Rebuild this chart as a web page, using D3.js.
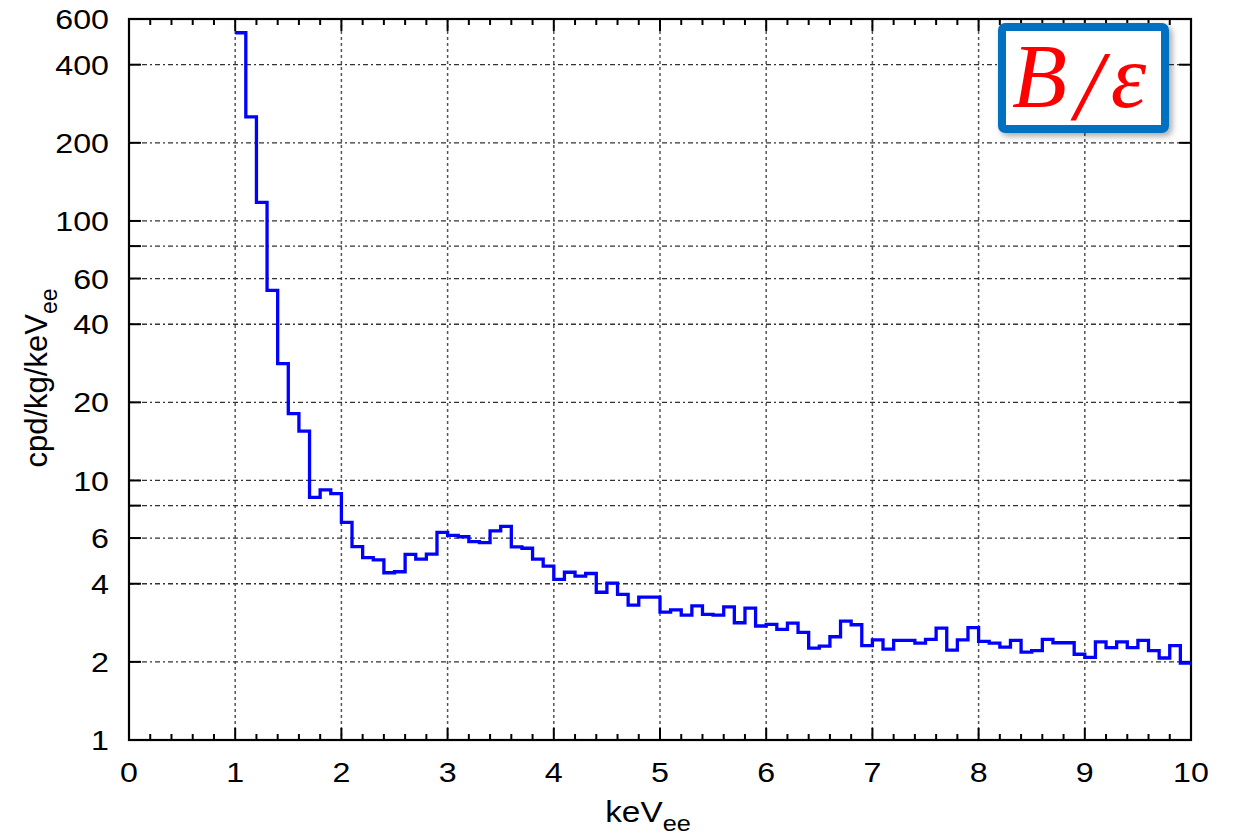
<!DOCTYPE html>
<html>
<head>
<meta charset="utf-8">
<script src="https://cdn.jsdelivr.net/npm/d3@7"></script>
<style>
  body { margin: 0; background: #fff; }
  .sans { font-family: "Liberation Sans", Arial, sans-serif; }
  .serif { font-family: "Liberation Serif", "DejaVu Serif", serif; font-style: italic; }
</style>
</head>
<body>
<div id="chart"></div>
<script>
// histogram, 0.1 keV bins from 1 to 10 keVee
var binStart = 1.0;
var binWidth = 0.1;
var counts = [
  531, 252, 118, 54, 28.2, 18.1, 15.5, 8.6, 9.2, 8.9,
  6.9, 5.56, 5.04, 4.94, 4.41, 4.45, 5.19, 4.98, 5.2, 6.31,
  6.14, 6.07, 5.81, 5.76, 6.40, 6.65, 5.55, 5.48, 4.98, 4.68,
  4.16, 4.43, 4.28, 4.38, 3.71, 4.02, 3.64, 3.31, 3.55, 3.55,
  3.11, 3.17, 3.03, 3.29, 3.05, 3.03, 3.26, 2.83, 3.22, 2.75,
  2.79, 2.67, 2.82, 2.60, 2.26, 2.30, 2.50, 2.87, 2.78, 2.31,
  2.43, 2.24, 2.42, 2.42, 2.36, 2.44, 2.70, 2.22, 2.43, 2.71,
  2.40, 2.36, 2.28, 2.42, 2.18, 2.21, 2.44, 2.37, 2.37, 2.14,
  2.08, 2.39, 2.27, 2.39, 2.27, 2.42, 2.21, 2.07, 2.31, 1.98
];
var xTicks = [0, 1, 2, 3, 4, 5, 6, 7, 8, 9, 10];
var yTicks = [1, 2, 4, 6, 8, 10, 20, 40, 60, 80, 100, 200, 400, 600];
var yLabels = [1, 2, 4, 6, 10, 20, 40, 60, 100, 200, 400, 600];

var width = 1235, height = 839;
var pLeft = 129, pRight = 1191, pTop = 19, pBottom = 740;
var stretch = 1.15; // glyphs in the reference are a little wide

var svg = d3.select("#chart").append("svg")
    .attr("width", width)
    .attr("height", height);

var x = d3.scaleLinear().domain([0, 10]).range([pLeft, pRight]);
var y = d3.scaleLog().domain([1, 600]).range([pBottom, pTop]);

// grid
svg.append("g").selectAll("line")
    .data(xTicks.filter(function(d) { return d > 0 && d < 10; }))
    .enter().append("line")
    .attr("x1", function(d) { return x(d); })
    .attr("x2", function(d) { return x(d); })
    .attr("y1", pTop).attr("y2", pBottom)
    .attr("stroke", "#555")
    .attr("stroke-width", 1.5)
    .attr("stroke-dasharray", "3,3");

svg.append("g").selectAll("line")
    .data(yTicks.filter(function(d) { return d > 1 && d < 600; }))
    .enter().append("line")
    .attr("x1", pLeft).attr("x2", pRight)
    .attr("y1", function(d) { return y(d); })
    .attr("y2", function(d) { return y(d); })
    .attr("stroke", "#333")
    .attr("stroke-width", 1.3)
    .attr("stroke-dasharray", "5,3,2,3");

// ticks
function isMajor(d) { return Math.abs(d - Math.round(d)) < 1e-6; }
var minor = d3.range(0, 10.001, 0.2);
svg.append("g").selectAll("line")
    .data(minor)
    .enter().append("line")
    .attr("x1", function(d) { return x(d); })
    .attr("x2", function(d) { return x(d); })
    .attr("y1", pBottom)
    .attr("y2", function(d) { return pBottom - (isMajor(d) ? 12 : 6); })
    .attr("stroke", "#000").attr("stroke-width", 2);
svg.append("g").selectAll("line")
    .data(minor)
    .enter().append("line")
    .attr("x1", function(d) { return x(d); })
    .attr("x2", function(d) { return x(d); })
    .attr("y1", pTop)
    .attr("y2", function(d) { return pTop + (isMajor(d) ? 12 : 6); })
    .attr("stroke", "#000").attr("stroke-width", 2);
svg.append("g").selectAll("line")
    .data(yTicks)
    .enter().append("line")
    .attr("x1", pLeft).attr("x2", pLeft + 12)
    .attr("y1", function(d) { return y(d); })
    .attr("y2", function(d) { return y(d); })
    .attr("stroke", "#000").attr("stroke-width", 2);
svg.append("g").selectAll("line")
    .data(yTicks)
    .enter().append("line")
    .attr("x1", pRight - 12).attr("x2", pRight)
    .attr("y1", function(d) { return y(d); })
    .attr("y2", function(d) { return y(d); })
    .attr("stroke", "#000").attr("stroke-width", 2);

// frame
svg.append("rect")
    .attr("x", pLeft).attr("y", pTop)
    .attr("width", pRight - pLeft).attr("height", pBottom - pTop)
    .attr("fill", "none")
    .attr("stroke", "#000")
    .attr("stroke-width", 2.2);

// tick labels
svg.append("g").selectAll("text")
    .data(xTicks)
    .enter().append("text")
    .attr("class", "sans")
    .attr("transform", function(d) { return "translate(" + x(d) + ",782) scale(" + stretch + ",1)"; })
    .attr("text-anchor", "middle")
    .attr("font-size", "28px")
    .attr("fill", "#000")
    .text(function(d) { return d; });

svg.append("g").selectAll("text")
    .data(yLabels)
    .enter().append("text")
    .attr("class", "sans")
    .attr("transform", function(d) { return "translate(109," + y(d) + ") scale(" + stretch + ",1)"; })
    .attr("dy", "0.36em")
    .attr("text-anchor", "end")
    .attr("font-size", "28px")
    .attr("fill", "#000")
    .text(function(d) { return d; });

// axis titles
var xt = svg.append("text")
    .attr("class", "sans")
    .attr("transform", "translate(648,822) scale(" + stretch + ",1)")
    .attr("text-anchor", "middle")
    .attr("font-size", "29px");
xt.append("tspan").text("keV");
xt.append("tspan").attr("dy", 9).attr("font-size", "22px").text("ee");

var yt = svg.append("text")
    .attr("class", "sans")
    .attr("transform", "translate(47,378) rotate(-90)")
    .attr("text-anchor", "middle")
    .attr("font-size", "31px");
yt.append("tspan").text("cpd/kg/keV");
yt.append("tspan").attr("dy", 10).attr("font-size", "23px").text("ee");

// histogram
var steps = counts.map(function(c, i) { return { x: binStart + i * binWidth, v: c }; });
steps.push({ x: binStart + counts.length * binWidth, v: counts[counts.length - 1] });

var line = d3.line()
    .x(function(d) { return x(d.x); })
    .y(function(d) { return y(d.v); })
    .curve(d3.curveStepAfter);

svg.append("path")
    .datum(steps)
    .attr("d", line)
    .attr("fill", "none")
    .attr("stroke", "#0000ff")
    .attr("stroke-width", 3.3);

// B/epsilon label box
var defs = svg.append("defs");
var f = defs.append("filter").attr("id", "shadow")
    .attr("x", "-20%").attr("y", "-20%").attr("width", "140%").attr("height", "140%");
f.append("feDropShadow")
    .attr("dx", 3).attr("dy", 3).attr("stdDeviation", 3)
    .attr("flood-color", "#000").attr("flood-opacity", 0.35);

svg.append("rect")
    .attr("x", 1002).attr("y", 27)
    .attr("width", 163).attr("height", 102)
    .attr("rx", 3)
    .attr("fill", "#fff")
    .attr("stroke", "#0070c0")
    .attr("stroke-width", 8)
    .attr("filter", "url(#shadow)");

var lab = svg.append("text")
    .attr("class", "serif")
    .attr("x", 1012).attr("y", 107)
    .attr("font-size", "90px")
    .attr("fill", "#ff0000");
lab.append("tspan").text("B");
lab.append("tspan").attr("dx", 8).attr("font-size", "100px").attr("dy", 12).text("/");
lab.append("tspan").attr("dx", 8).attr("dy", -12).text("ε");
</script>
</body>
</html>
